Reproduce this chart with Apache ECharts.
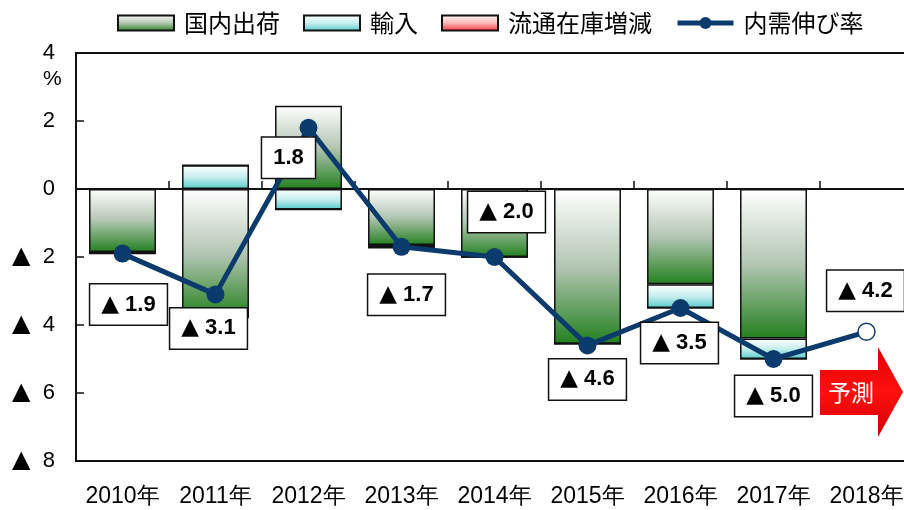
<!DOCTYPE html>
<html>
<head>
<meta charset="utf-8">
<script src="https://cdn.jsdelivr.net/npm/echarts@6/dist/echarts.min.js"></script>
<style>
  html, body { margin: 0; padding: 0; background: #fff; }
  #myChart { width: 904px; height: 510px; }
</style>
</head>
<body>
<div id="myChart"></div>
<script>
// 年ごとのデータ
var years = ['2010年', '2011年', '2012年', '2013年', '2014年', '2015年', '2016年', '2017年', '2018年']
var domestic = [-1.85, -3.8, 2.45, -1.65, -2.0, -4.55, -2.8, -4.4, null]   // 国内出荷
var imports = [-0.05, 0.7, -0.6, -0.08, 0, 0, -0.7, -0.6, null]          // 輸入
var inventory = [0, 0, 0, 0, 0, 0, 0, 0, null]                            // 流通在庫増減
var demand = [-1.9, -3.1, 1.8, -1.7, -2.0, -4.6, -3.5, -5.0, -4.2]        // 内需伸び率
var yTicks = [4, 2, 0, -2, -4, -6, -8]

// ラベルの位置（点からのずれ）
var labelOffsets = [[6, 51], [-7, 34], [-20, 30], [5, 48], [12, -45], [0, 34], [-1, 35], [0, 37], [-1, -41]]

var navy = '#0b3a6c'
var jp = '"Noto Sans CJK JP", sans-serif'
var num = '"Liberation Sans", Arial, "DejaVu Sans", sans-serif'
var tri = '"DejaVu Sans", sans-serif'

function grad(c) {
  return new echarts.graphic.LinearGradient(0, 0, 0, 1, [
    { offset: 0, color: '#ffffff' },
    { offset: 0.5, color: c[0] },
    { offset: 1, color: c[1] },
  ])
}

function fmt(v) {
  return v < 0 ? '{t|▲}{n| ' + (-v).toFixed(1) + '}' : '{n|' + v.toFixed(1) + '}'
}

var myChart = echarts.init(document.getElementById('myChart'))

var barBase = {
  type: 'bar',
  stack: 'total',
  barWidth: '72%',
  xAxisIndex: 0,
}

var lineData = demand.map(function (v, i) {
  var item = {
    value: v,
    label: { offset: labelOffsets[i] },
  }
  if (i === demand.length - 1) {
    item.itemStyle = { color: '#fff', borderColor: navy, borderWidth: 1.5 }
    item.symbolSize = 17
  }
  return item
})

var option = {
  backgroundColor: '#fff',
  animation: false,
  legend: {
    left: 112,
    top: 6,
    itemWidth: 56,
    itemHeight: 15,
    itemGap: 23,
    textStyle: { fontFamily: jp, fontSize: 24, color: '#000', padding: [0, 0, 0, 5] },
    data: [
      { name: '国内出荷', icon: 'rect' },
      { name: '輸入', icon: 'rect' },
      { name: '流通在庫増減', icon: 'rect' },
      { name: '内需伸び率', lineStyle: { width: 5 } },
    ],
  },
  grid: {
    left: 76,
    top: 53,
    right: -9,
    bottom: 49,
    show: true,
    borderColor: '#111',
    borderWidth: 2,
    containLabel: false,
    outerBoundsMode: 'none',
  },
  xAxis: [
    {
      type: 'category',
      data: years,
      position: 'bottom',
      axisLine: { onZero: false, lineStyle: { color: '#111', width: 2 } },
      axisTick: { show: false },
      axisLabel: { interval: 0, hideOverlap: false, fontFamily: num, fontSize: 23, color: '#000', margin: 24 },
    },
    {
      type: 'category',
      data: years,
      position: 'top',
      axisLine: { onZero: true, lineStyle: { color: '#111', width: 2 } },
      axisTick: { show: true, inside: false, length: 8, lineStyle: { color: '#111', width: 1.5 } },
      axisLabel: { show: false },
    },
  ],
  yAxis: {
    type: 'value',
    min: yTicks[yTicks.length - 1],
    max: yTicks[0],
    interval: 2,
    axisLine: { show: true, lineStyle: { color: '#111', width: 2 } },
    axisTick: { show: true, inside: true, length: 8, lineStyle: { color: '#111', width: 1.5 } },
    splitLine: { show: false },
    axisLabel: {
      fontFamily: num,
      fontSize: 22,
      color: '#000',
      margin: 21,
      formatter: function (v) {
        return v < 0 ? '{t|▲}  ' + (-v) : String(v)
      },
      rich: {
        t: { fontFamily: tri, fontSize: 24, color: '#000' },
      },
    },
  },
  graphic: [
    {
      type: 'text',
      left: 43,
      top: 69,
      style: { text: '%', fontFamily: num, fontSize: 21, fill: '#000' },
    },
    {
      type: 'polygon',
      shape: {
        points: [[820, 370], [878, 370], [878, 347], [903, 392], [878, 437], [878, 415], [820, 415]],
      },
      style: {
        fill: new echarts.graphic.LinearGradient(0, 0, 0, 1, [
          { offset: 0, color: '#e00000' },
          { offset: 0.5, color: '#ff1010' },
          { offset: 1, color: '#d00000' },
        ]),
      },
      z: 10,
    },
    {
      type: 'text',
      x: 851,
      y: 392,
      style: {
        text: '予測',
        fontFamily: jp,
        fontSize: 23,
        fill: '#fff',
        align: 'center',
        verticalAlign: 'middle',
      },
      z: 11,
    },
  ],
  series: [
    Object.assign({}, barBase, {
      name: '国内出荷',
      data: domestic,
      itemStyle: { color: grad(['#b3c6b3', '#23801f']), borderColor: '#111', borderWidth: 1.5 },
    }),
    Object.assign({}, barBase, {
      name: '輸入',
      data: imports,
      itemStyle: { color: grad(['#c8eeee', '#55cbcb']), borderColor: '#111', borderWidth: 1.5 },
    }),
    Object.assign({}, barBase, {
      name: '流通在庫増減',
      data: inventory,
      itemStyle: { color: grad(['#ffb8b8', '#ff3030']), borderColor: '#111', borderWidth: 1.5 },
    }),
    {
      name: '内需伸び率',
      type: 'line',
      xAxisIndex: 0,
      data: lineData,
      symbol: 'circle',
      symbolSize: 18,
      itemStyle: { color: navy },
      lineStyle: { color: navy, width: 5 },
      z: 5,
      label: {
        show: true,
        position: 'inside',
        formatter: function (p) {
          return fmt(p.value)
        },
        backgroundColor: '#fff',
        borderColor: '#111',
        borderWidth: 1.5,
        padding: [8, 11, 8, 11],
        rich: {
          t: { fontFamily: tri, fontSize: 23, color: '#000', lineHeight: 24 },
          n: { fontFamily: num, fontWeight: 'bold', fontSize: 22, color: '#000', lineHeight: 24 },
        },
      },
    },
  ],
}

myChart.setOption(option)
</script>
</body>
</html>
